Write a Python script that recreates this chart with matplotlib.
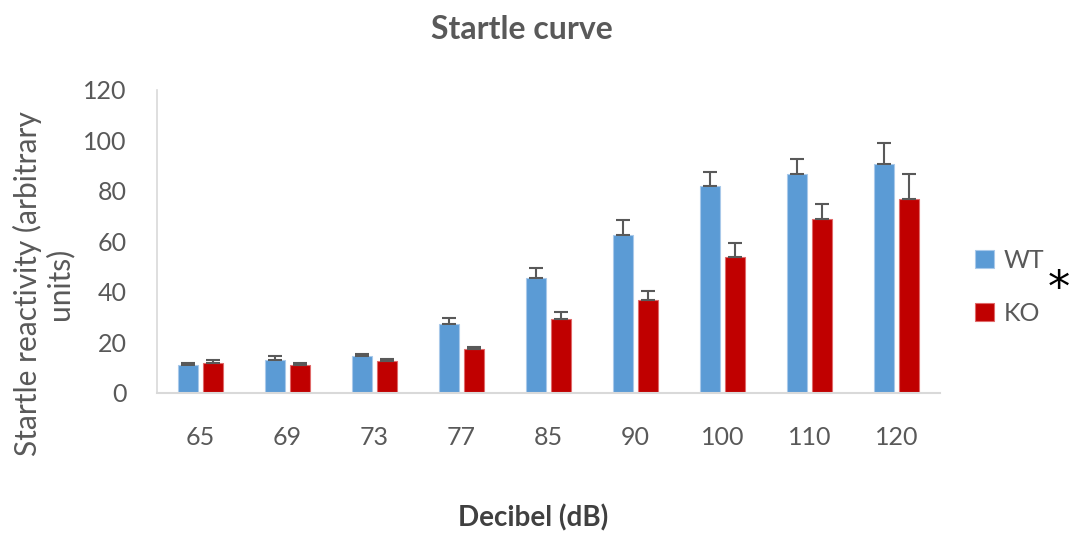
import numpy as np
import matplotlib
matplotlib.use('Agg')
import matplotlib.pyplot as plt

# Startle reactivity per stimulus intensity, WT vs KO (mean + SEM)
decibels = ['65', '69', '73', '77', '85', '90', '100', '110', '120']
wt_mean = [11.1, 13.2, 14.8, 27.2, 45.4, 62.7, 81.8, 86.6, 90.7]
wt_err = [0.9, 1.5, 0.8, 2.5, 4.1, 5.9, 5.7, 6.1, 8.3]
ko_mean = [11.8, 11.1, 12.7, 17.3, 29.3, 36.7, 53.7, 68.8, 76.7]
ko_err = [1.3, 0.9, 0.9, 0.9, 2.9, 3.8, 5.7, 6.2, 10.2]

wt_color = '#5B9BD5'
ko_color = '#C00000'
text_gray = '#595959'

plt.rcParams['font.family'] = ['Lato', 'DejaVu Sans']

fig = plt.figure(figsize=(10.73, 5.33), dpi=100)
ax = fig.add_axes([0.1463, 0.2627, 0.7297, 0.5685])

x = np.arange(len(decibels))
width = 0.23
gap = 0.03
err_kw = dict(ecolor='#595959', elinewidth=1.5, capsize=5, capthick=1.5)

ax.bar(x - width / 2 - gap, wt_mean, width, color=wt_color, edgecolor='#A9C9EA', linewidth=0.8,
       yerr=[np.zeros(len(wt_err)), wt_err], error_kw=err_kw, label='WT')
ax.bar(x + width / 2 + gap, ko_mean, width, color=ko_color, edgecolor='#E06A6A', linewidth=0.8,
       yerr=[np.zeros(len(ko_err)), ko_err], error_kw=err_kw, label='KO')

ax.set_xlim(-0.5, len(decibels) - 0.5)
ax.set_ylim(0, 120)
ax.set_yticks(range(0, 121, 20))
ax.set_xticks(x)
ax.set_xticklabels(decibels)
ax.tick_params(axis='x', length=0, pad=24, labelsize=18, labelcolor=text_gray)
ax.tick_params(axis='y', length=0, pad=22, labelsize=18, labelcolor=text_gray)

# light axis lines, no frame on top / right
for side in ['top', 'right']:
    ax.spines[side].set_visible(False)
ax.spines['left'].set_color('#D9D9D9')
ax.spines['bottom'].set_color('#D9D9D9')
ax.spines['left'].set_linewidth(1.2)
ax.spines['bottom'].set_linewidth(1.5)

fig.text(0.486, 0.945, 'Startle curve', ha='center', va='center', fontsize=23,
         fontweight='bold', color=text_gray)
fig.text(0.497, 0.028, 'Decibel (dB)', ha='center', va='center', fontsize=20,
         fontweight='bold', color='#404040')
fig.text(0.04, 0.468, 'Startle reactivity (arbitrary\nunits)', ha='center', va='center',
         rotation=90, fontsize=21.5, color=text_gray, linespacing=1.1)

leg = ax.legend(loc='center left', bbox_to_anchor=(0.888, 0.462), bbox_transform=fig.transFigure,
                frameon=False, fontsize=18, handlelength=0.75, handleheight=0.75,
                handletextpad=0.4, labelspacing=1.2)
for t in leg.get_texts():
    t.set_color(text_gray)

fig.text(0.987, 0.457, '*', ha='center', va='center', fontsize=32, color='black',
         family='DejaVu Sans')

plt.savefig('out.png', dpi=100)
